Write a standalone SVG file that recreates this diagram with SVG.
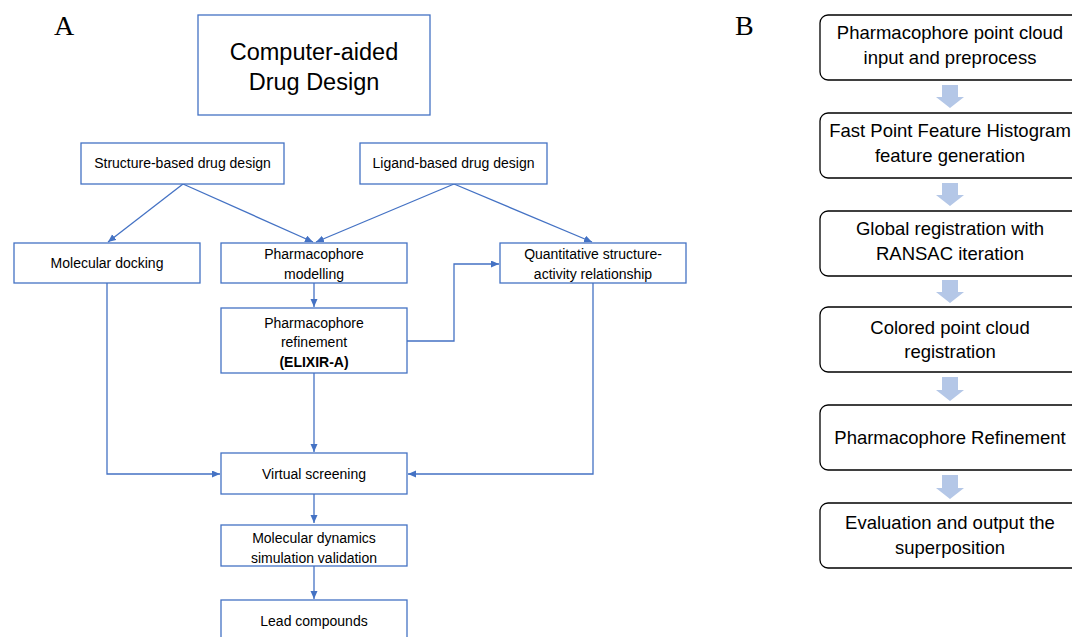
<svg xmlns="http://www.w3.org/2000/svg" width="1072" height="637" viewBox="0 0 1072 637">
<defs>
<style>
.b{fill:#fff;stroke:#4472C4;stroke-width:1.3}
.c{fill:none;stroke:#4472C4;stroke-width:1.3}
.t{font-family:"Liberation Sans",Arial,sans-serif;font-size:14px;fill:#000;text-anchor:middle}
.big{font-size:23.5px}
.bold{font-weight:bold}
.lab{font-family:"Liberation Serif","Times New Roman",serif;font-size:28px;fill:#000}
.r{fill:#fff;stroke:#000;stroke-width:1.3}
.tb{font-family:"Liberation Sans",Arial,sans-serif;font-size:18.5px;fill:#000;text-anchor:middle}
.ar{fill:#B4C7E7}
</style>
<marker id="ah" markerUnits="userSpaceOnUse" markerWidth="9" markerHeight="8" refX="8" refY="3.5" orient="auto">
<path d="M0,0 L8,3.5 L0,7 z" fill="#4472C4"/>
</marker>
</defs>
<rect width="1072" height="637" fill="#fff"/>
<text class="lab" x="54" y="35">A</text>
<text class="lab" x="735" y="35">B</text>

<g id="connectors">
<path class="c" d="M183,184 L108,242" marker-end="url(#ah)"/>
<path class="c" d="M183,184 L313,242" marker-end="url(#ah)"/>
<path class="c" d="M454,184 L316,242" marker-end="url(#ah)"/>
<path class="c" d="M454,184 L592,242" marker-end="url(#ah)"/>
<path class="c" d="M314,283 L314,307" marker-end="url(#ah)"/>
<path class="c" d="M407,341 L454,341 L454,264 L499,264" marker-end="url(#ah)"/>
<path class="c" d="M314,373 L314,452" marker-end="url(#ah)"/>
<path class="c" d="M107,283 L107,474 L220,474" marker-end="url(#ah)"/>
<path class="c" d="M593,283 L593,474 L408,474" marker-end="url(#ah)"/>
<path class="c" d="M314,494 L314,523" marker-end="url(#ah)"/>
<path class="c" d="M314,566 L314,599" marker-end="url(#ah)"/>
</g>

<g id="n-cadd"><rect class="b" x="198" y="15" width="232" height="100"/>
<text class="t big" x="314" y="60">Computer-aided</text><text class="t big" x="314" y="90">Drug Design</text></g>
<g id="n-sbdd"><rect class="b" x="81" y="143" width="203" height="41"/>
<text class="t" x="182.5" y="168">Structure-based drug design</text></g>
<g id="n-lbdd"><rect class="b" x="360" y="143" width="187" height="41"/>
<text class="t" x="453.5" y="168">Ligand-based drug design</text></g>
<g id="n-dock"><rect class="b" x="14" y="243" width="186" height="40"/>
<text class="t" x="107" y="268">Molecular docking</text></g>
<g id="n-pm"><rect class="b" x="221" y="243" width="186" height="40"/>
<text class="t" x="314" y="259">Pharmacophore</text><text class="t" x="314" y="279">modelling</text></g>
<g id="n-qsar"><rect class="b" x="500" y="243" width="186" height="40"/>
<text class="t" x="593" y="259">Quantitative structure-</text><text class="t" x="593" y="279">activity relationship</text></g>
<g id="n-ref"><rect class="b" x="221" y="308" width="186" height="65"/>
<text class="t" x="314" y="328">Pharmacophore</text><text class="t" x="314" y="347">refinement</text><text class="t bold" x="314" y="367">(ELIXIR-A)</text></g>
<g id="n-vs"><rect class="b" x="221" y="453" width="186" height="41"/>
<text class="t" x="314" y="479">Virtual screening</text></g>
<g id="n-md"><rect class="b" x="221" y="525" width="186" height="41"/>
<text class="t" x="314" y="543">Molecular dynamics</text><text class="t" x="314" y="563">simulation validation</text></g>
<g id="n-lead"><rect class="b" x="221" y="600" width="186" height="45"/>
<text class="t" x="314" y="626">Lead compounds</text></g>

<g id="b1"><rect class="r" x="820" y="15" width="262" height="65" rx="8"/>
<text class="tb" x="950" y="39">Pharmacophore point cloud</text><text class="tb" x="950" y="64">input and preprocess</text></g>
<g id="b2"><rect class="r" x="820" y="113" width="262" height="65" rx="8"/>
<text class="tb" x="950" y="137">Fast Point Feature Histogram</text><text class="tb" x="950" y="162">feature generation</text></g>
<g id="b3"><rect class="r" x="820" y="211" width="262" height="65" rx="8"/>
<text class="tb" x="950" y="235">Global registration with</text><text class="tb" x="950" y="260">RANSAC iteration</text></g>
<g id="b4"><rect class="r" x="820" y="307" width="262" height="65" rx="8"/>
<text class="tb" x="950" y="334">Colored point cloud</text><text class="tb" x="950" y="358">registration</text></g>
<g id="b5"><rect class="r" x="820" y="405" width="262" height="65" rx="8"/>
<text class="tb" x="950" y="444">Pharmacophore Refinement</text></g>
<g id="b6"><rect class="r" x="820" y="503" width="262" height="65" rx="8"/>
<text class="tb" x="950" y="529">Evaluation and output the</text><text class="tb" x="950" y="554">superposition</text></g>

<g id="b-arrows">
<polygon class="ar" points="942,85 958,85 958,97 964,97 950,108 936,97 942,97"/>
<polygon class="ar" points="942,183 958,183 958,195 964,195 950,206 936,195 942,195"/>
<polygon class="ar" points="942,280 958,280 958,292 964,292 950,303 936,292 942,292"/>
<polygon class="ar" points="942,377 958,377 958,390 964,390 950,401 936,390 942,390"/>
<polygon class="ar" points="942,475 958,475 958,488 964,488 950,499 936,488 942,488"/>
</g>
</svg>
